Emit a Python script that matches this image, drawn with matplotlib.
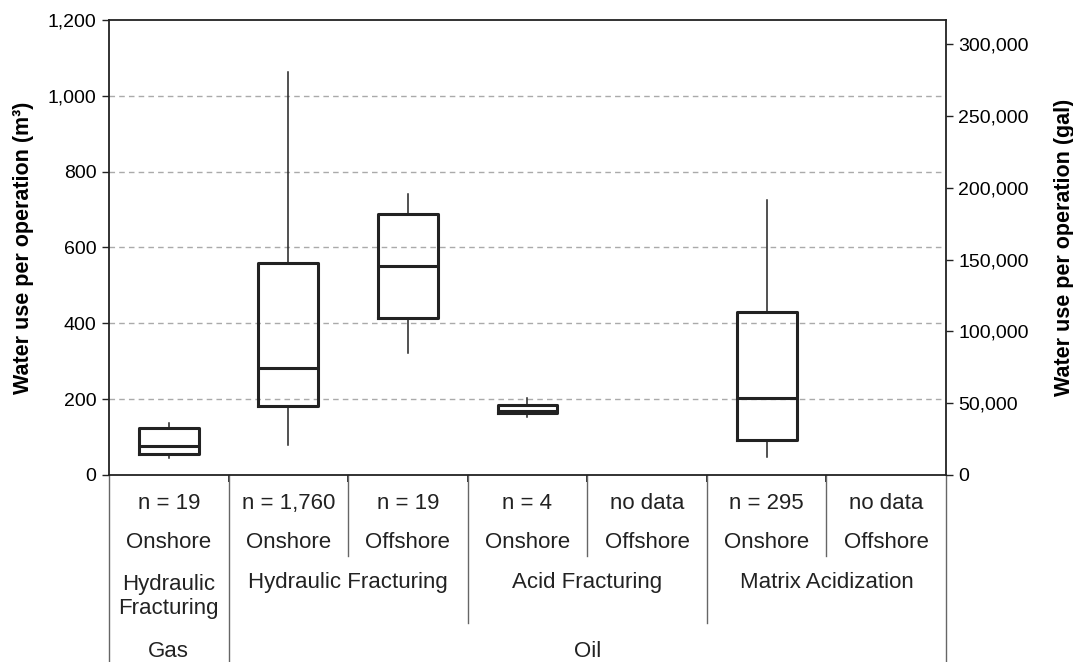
import matplotlib.pyplot as plt
from matplotlib.ticker import FuncFormatter

plt.rcParams['font.family'] = ['Liberation Sans', 'DejaVu Sans']

# box statistics in m3, one per column (None = no data)
labels = ["Gas HF Onshore", "Oil HF Onshore", "Oil HF Offshore",
          "Oil AF Onshore", "Oil AF Offshore", "Oil MA Onshore", "Oil MA Offshore"]
whislo = [46, 79, 322, 154, None, 48, None]
q1 = [55, 181, 414, 163, None, 92, None]
med = [77, 282, 552, 168, None, 204, None]
q3 = [125, 559, 689, 184, None, 429, None]
whishi = [138, 1063, 742, 204, None, 724, None]

n_labels = ["n = 19", "n = 1,760", "n = 19", "n = 4", "no data", "n = 295", "no data"]
location = ["Onshore", "Onshore", "Offshore", "Onshore", "Offshore", "Onshore", "Offshore"]
# (label, first column, last column)
operations = [("Hydraulic\nFracturing", 0, 0), ("Hydraulic Fracturing", 1, 2),
              ("Acid Fracturing", 3, 4), ("Matrix Acidization", 5, 6)]
fuels = [("Gas", 0, 0), ("Oil", 1, 6)]

M3_TO_GAL = 264.172

fig = plt.figure(figsize=(10.73, 6.62), dpi=100)
ax = fig.add_axes([0.1016, 0.2825, 0.78, 0.6873])

stats = []
pos = []
for i in range(len(labels)):
    if med[i] is None:
        continue
    stats.append(dict(whislo=whislo[i], q1=q1[i], med=med[i], q3=q3[i], whishi=whishi[i], fliers=[]))
    pos.append(i + 0.5)

ax.bxp(stats, positions=pos, widths=0.5, showcaps=False, showfliers=False,
       boxprops=dict(color="#222222", linewidth=2.2),
       medianprops=dict(color="#222222", linewidth=2.2),
       whiskerprops=dict(color="#222222", linewidth=1.1))

ax.set_xlim(0, len(labels))
ax.set_ylim(0, 1200)
ax.set_yticks(range(0, 1201, 200))
ax.yaxis.set_major_formatter(FuncFormatter(lambda v, p: f"{int(v):,}"))
ax.set_xticks(range(1, len(labels)))
ax.set_xticklabels([])
ax.tick_params(axis='x', length=5, width=1.3, color="#222222")
ax.tick_params(axis='y', length=5, width=1, color="#222222", labelsize=14, pad=4)
for y in range(200, 1001, 200):
    ax.axhline(y, color="#aaaaaa", linewidth=1, linestyle=(0, (4, 3)), zorder=0)
for s in ax.spines.values():
    s.set_color("#222222")
    s.set_linewidth(1.3)
ax.set_ylabel("Water use per operation (m³)", fontsize=15.5, fontweight='bold', labelpad=10)

ax2 = ax.twinx()
ax2.set_ylim(0, 1200 * M3_TO_GAL)
ax2.set_yticks(range(0, 300001, 50000))
ax2.yaxis.set_major_formatter(FuncFormatter(lambda v, p: f"{int(v):,}"))
ax2.tick_params(axis='y', length=5, width=1, color="#222222", labelsize=14, pad=4)
for s in ax2.spines.values():
    s.set_visible(False)
ax2.set_ylabel("Water use per operation (gal)", fontsize=15.5, fontweight='bold', labelpad=18)

# category table under the plot
tr = ax.get_xaxis_transform()
line_kw = dict(color="#666666", linewidth=1.0, transform=tr, clip_on=False)
y_bottom = -0.411
row_n, row_loc, row_op, row_fuel = -0.062, -0.149, -0.237, -0.387
end_loc, end_op = -0.178, -0.325
txt = dict(fontsize=16, ha='center', va='center', transform=tr, color="#222222")

for i in range(len(labels)):
    ax.text(i + 0.5, row_n, n_labels[i], **txt)
    ax.text(i + 0.5, row_loc, location[i], **txt)

for name, a, b in operations:
    y = row_op - 0.03 if "\n" in name else row_op
    ax.text((a + b + 1) / 2, y, name, linespacing=1.2, **txt)
for name, a, b in fuels:
    ax.text((a + b + 1) / 2, row_fuel, name, **txt)

# vertical separators: full height at fuel borders, shorter inside groups
ax.plot([0, 0], [0, y_bottom], **line_kw)
ax.plot([len(labels), len(labels)], [0, y_bottom], **line_kw)
for x in range(1, len(labels)):
    if any(x == a for _, a, _ in fuels):
        end = y_bottom
    elif any(x == a for _, a, _ in operations):
        end = end_op
    else:
        end = end_loc
    ax.plot([x, x], [0, end], **line_kw)

fig.savefig("out.png", dpi=100)
